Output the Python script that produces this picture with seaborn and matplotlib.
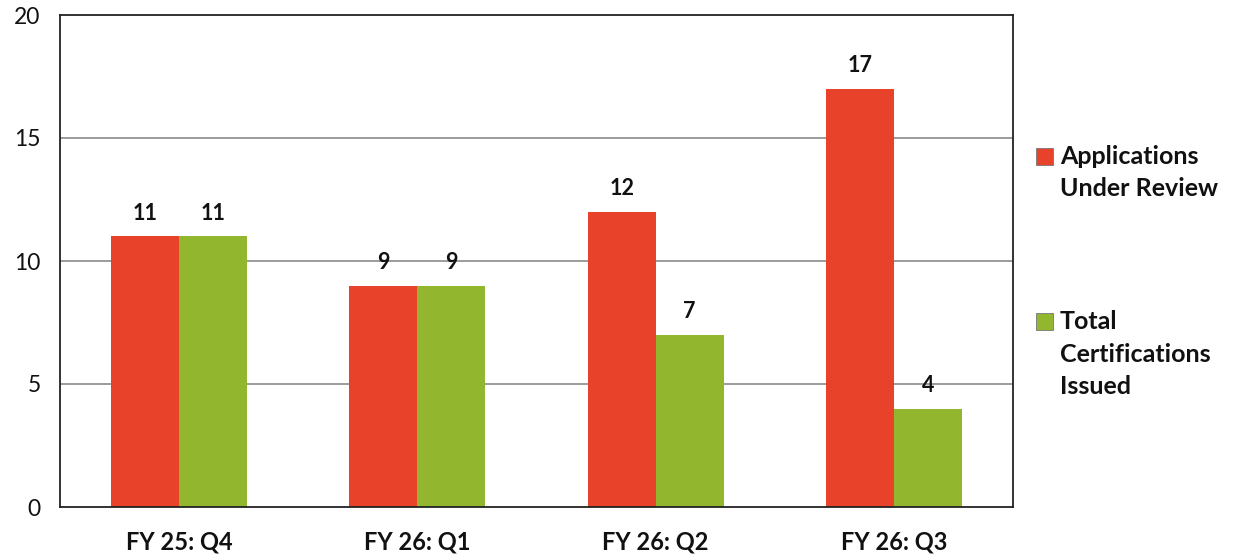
import matplotlib
matplotlib.use("Agg")
import matplotlib.pyplot as plt
import seaborn as sns
import pandas as pd
from matplotlib.patches import Rectangle

quarters = ["FY 25: Q4", "FY 26: Q1", "FY 26: Q2", "FY 26: Q3"]
applications = [11, 9, 12, 17]
certifications = [11, 9, 7, 4]
series_names = ["Applications\nUnder Review", "Total\nCertifications\nIssued"]
colors = ["#E8432A", "#93B62F"]
yticks = [0, 5, 10, 15, 20]

df = pd.DataFrame({
    "quarter": quarters * 2,
    "value": applications + certifications,
    "series": [series_names[0]] * len(quarters) + [series_names[1]] * len(quarters),
})

sns.set_theme(style="white")
plt.rcParams["font.family"] = ["Lato", "DejaVu Sans"]

fig = plt.figure(figsize=(12.35, 5.57), dpi=100)
ax = fig.add_axes([60 / 1235, 1 - 507 / 557, (1013 - 60) / 1235, (507 - 15) / 557])

sns.barplot(data=df, x="quarter", y="value", hue="series", palette=colors,
            width=0.57, ax=ax, legend=False, saturation=1, edgecolor="none")

ax.set_ylim(0, 20)
ax.set_yticks(yticks)
ax.set_yticklabels([str(t) for t in yticks], fontsize=16.5)
ax.set_xlabel("")
ax.set_ylabel("")
ax.tick_params(axis="y", length=0, pad=14, labelcolor="#111111")
ax.tick_params(axis="x", length=0, pad=17, labelsize=17, labelcolor="#111111")
for lab in ax.get_xticklabels():
    lab.set_fontweight("bold")

ax.set_axisbelow(True)
for t in [5, 10, 15]:
    ax.axhline(t, color="#8a8a8a", linewidth=1.2, zorder=0)
for sp in ax.spines.values():
    sp.set_visible(True)
    sp.set_color("#222222")
    sp.set_linewidth(1.3)

for cont in ax.containers:
    ax.bar_label(cont, padding=9, fontsize=15.5, fontweight="bold", color="#111111")

# legend (marker aligned with first line of text)
leg_y = [157, 322]
for name, col, y in zip(series_names, colors, leg_y):
    fig.patches.append(Rectangle((1036 / 1235, 1 - (y + 8) / 557), 17 / 1235, 17 / 557,
                                 transform=fig.transFigure, facecolor=col,
                                 edgecolor="#777777", linewidth=0.6))
    fig.text(1060 / 1235, 1 - (y - 12) / 557, name, fontsize=18, fontweight="bold",
             va="top", ha="left", linespacing=1.5, color="#111111")

fig.savefig("out.png", dpi=100, facecolor="white")
